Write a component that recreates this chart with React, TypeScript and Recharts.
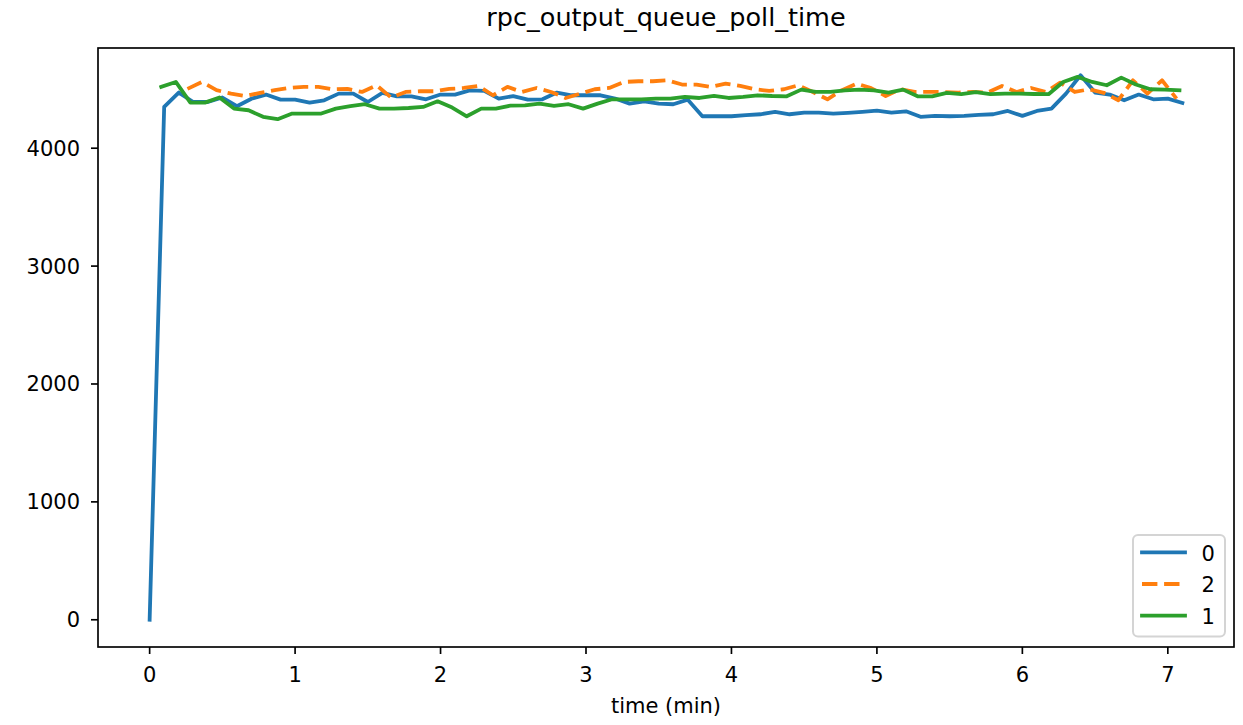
import { LineChart, Line, XAxis, YAxis } from "recharts";

// sampling step (minutes) and first sample time of each series
const STEP = 0.1;
const start0 = 0;
const start1 = 0.08;
const start2 = 0.26;

const values0 = [
  0, 4350, 4472, 4392, 4392, 4430, 4356, 4420, 4455, 4412, 4412, 4387, 4406, 4463, 4463, 4392,
  4469, 4440, 4440, 4415, 4455, 4455, 4491, 4486, 4420, 4442, 4412, 4415, 4472, 4449, 4449, 4449,
  4421, 4378, 4398, 4378, 4373, 4412, 4271, 4271, 4271, 4280, 4288, 4308, 4288, 4302, 4302, 4294,
  4300, 4308, 4318, 4302, 4313, 4266, 4274, 4271, 4274, 4283, 4288, 4316, 4274, 4316, 4336, 4463,
  4619, 4472, 4455, 4406, 4455, 4415, 4420, 4384,
];

const values1 = [
  4520, 4562, 4387, 4387, 4430, 4336, 4322, 4266, 4246, 4294, 4294, 4294, 4336, 4356, 4373, 4336,
  4336, 4341, 4350, 4398, 4345, 4271, 4336, 4336, 4361, 4364, 4378, 4359, 4373, 4336, 4378, 4415,
  4415, 4415, 4420, 4420, 4435, 4426, 4443, 4426, 4435, 4449, 4443, 4440, 4497, 4477, 4477, 4491,
  4497, 4491, 4472, 4497, 4440, 4440, 4469, 4458, 4475, 4458, 4463, 4463, 4460, 4458, 4562, 4605,
  4562, 4534, 4599, 4540, 4500, 4497, 4491,
];

const values2 = [
  4503, 4562, 4492, 4463, 4443, 4469, 4492, 4511, 4520, 4520, 4500, 4503, 4477, 4534, 4430,
  4477, 4483, 4483, 4503, 4511, 4528, 4449, 4520, 4477, 4511, 4477, 4426, 4463, 4500, 4511, 4562, 4568,
  4568, 4576, 4540, 4540, 4520, 4548, 4528, 4500, 4486, 4500, 4534, 4477, 4415, 4492, 4548, 4510,
  4443, 4500, 4477, 4477, 4477, 4472, 4477, 4472, 4528, 4477, 4511, 4477, 4556, 4477, 4500, 4470,
  4407, 4576, 4463, 4576, 4421,
];

const xTicks = [0, 1, 2, 3, 4, 5, 6, 7];
const yTicks = [0, 1000, 2000, 3000, 4000];

const legendItems = [
  { label: "0", color: "#1f77b4", dash: undefined as string | undefined },
  { label: "2", color: "#ff7f0e", dash: "15.4 6.7" },
  { label: "1", color: "#2ca02c", dash: undefined as string | undefined },
];

const toPoints = (start: number, values: number[]) =>
  values.map((v, i) => ({ t: Math.round((start + i * STEP) * 100) / 100, value: v }));

const W = 1243;
const H = 725;
const PLOT = { left: 98, top: 48, right: 1234, bottom: 647 };
const FONT = "DejaVu Sans";
const LW = 3.8;

const tickStyle = { fill: "#000", fontSize: 21, fontFamily: FONT };

export default function App() {
  return (
    <div style={{ position: "absolute", left: 0, top: 0, width: W, height: H, background: "#fff" }}>
      <LineChart
        width={W}
        height={H}
        margin={{ top: PLOT.top, right: W - PLOT.right, bottom: 0, left: 0 }}
      >
        <XAxis
          dataKey="t"
          type="number"
          domain={[-0.355, 7.455]}
          ticks={xTicks}
          allowDataOverflow
          height={H - PLOT.bottom}
          axisLine={false}
          tickLine={{ stroke: "#000", strokeWidth: 1.67 }}
          tickSize={7}
          tickMargin={13}
          tick={tickStyle}
        />
        <YAxis
          type="number"
          domain={[-231, 4850]}
          ticks={yTicks}
          allowDataOverflow
          width={PLOT.left}
          axisLine={false}
          tickLine={{ stroke: "#000", strokeWidth: 1.67 }}
          tickSize={7}
          tickMargin={11}
          tick={tickStyle}
        />
        <Line
          data={toPoints(start0, values0)}
          dataKey="value"
          stroke="#1f77b4"
          strokeWidth={LW}
          strokeLinejoin="round"
          strokeLinecap="square"
          dot={false}
          isAnimationActive={false}
        />
        <Line
          data={toPoints(start2, values2)}
          dataKey="value"
          stroke="#ff7f0e"
          strokeWidth={LW}
          strokeDasharray="15.4 6.7"
          strokeLinejoin="round"
          dot={false}
          isAnimationActive={false}
        />
        <Line
          data={toPoints(start1, values1)}
          dataKey="value"
          stroke="#2ca02c"
          strokeWidth={LW}
          strokeLinejoin="round"
          strokeLinecap="square"
          dot={false}
          isAnimationActive={false}
        />
      </LineChart>
      <svg
        width={W}
        height={H}
        style={{ position: "absolute", left: 0, top: 0, pointerEvents: "none" }}
        fontFamily={FONT}
      >
        <rect
          x={PLOT.left}
          y={PLOT.top}
          width={PLOT.right - PLOT.left}
          height={PLOT.bottom - PLOT.top}
          fill="none"
          stroke="#000"
          strokeWidth={1.67}
        />
        <text x={(PLOT.left + PLOT.right) / 2} y={26.3} textAnchor="middle" fontSize={25.5} fill="#000">
          rpc_output_queue_poll_time
        </text>
        <text x={(PLOT.left + PLOT.right) / 2} y={713} textAnchor="middle" fontSize={21} fill="#000">
          time (min)
        </text>
        <rect x={1133} y={535} width={92} height={101.5} rx={5} fill="#fff" fillOpacity={0.8} stroke="#d4d4d4" strokeWidth={2} />
        {legendItems.map((item, i) => {
          const cy = 552.3 + i * 31.7;
          return (
            <g key={item.label}>
              <line
                x1={1142}
                x2={1185}
                y1={cy}
                y2={cy}
                stroke={item.color}
                strokeWidth={LW}
                strokeDasharray={item.dash}
                strokeLinecap={item.dash ? "butt" : "square"}
              />
              <text x={1201.5} y={cy + 8.4} fontSize={21} fill="#000">
                {item.label}
              </text>
            </g>
          );
        })}
      </svg>
    </div>
  );
}
